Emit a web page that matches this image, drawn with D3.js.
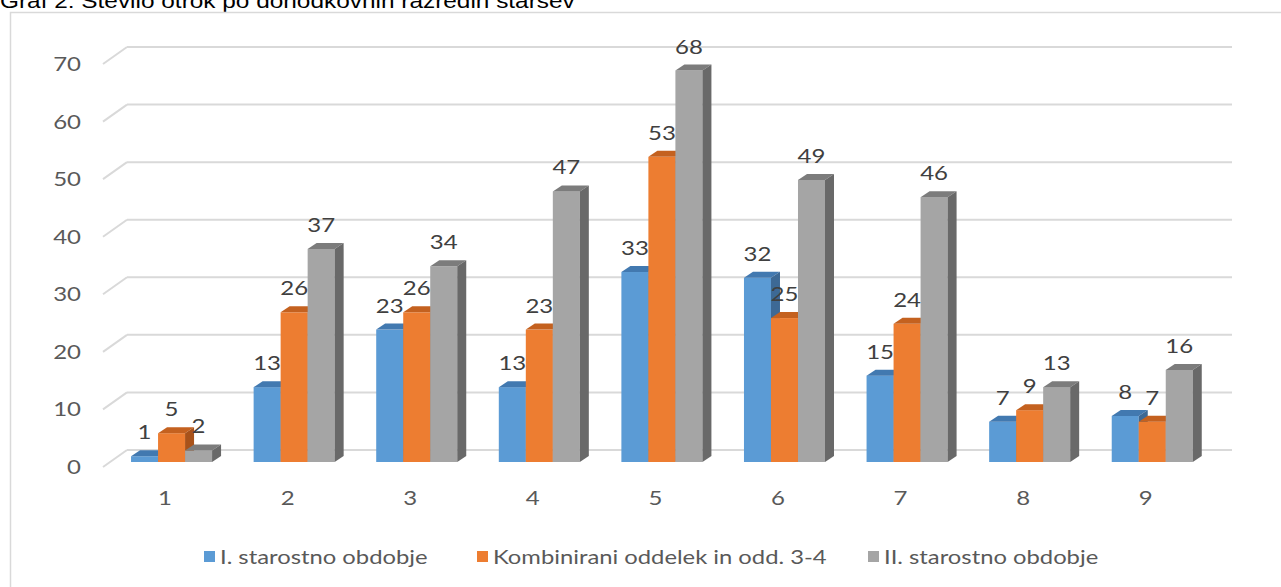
<!DOCTYPE html>
<html>
<head>
<meta charset="utf-8">
<script src="https://cdn.jsdelivr.net/npm/d3@7"></script>
<style>
  body { margin: 0; background: #fff; }
  svg { display: block; }
</style>
</head>
<body>
<div id="chart"></div>
<script>
// values
const categories = ["1", "2", "3", "4", "5", "6", "7", "8", "9"];
const seriesNames = ["I. starostno obdobje", "Kombinirani oddelek in odd. 3-4", "II. starostno obdobje"];
const prvo = [1, 13, 23, 13, 33, 32, 15, 7, 8];
const kombinirani = [5, 26, 26, 23, 53, 25, 24, 9, 7];
const drugo = [2, 37, 34, 47, 68, 49, 46, 13, 16];
const yTicks = [0, 10, 20, 30, 40, 50, 60, 70];

const series = [
  { name: seriesNames[0], values: prvo, front: "#5b9bd5", top: "#4279b0", side: "#3d6995" },
  { name: seriesNames[1], values: kombinirani, front: "#ed7d31", top: "#c4611f", side: "#a8521a" },
  { name: seriesNames[2], values: drugo, front: "#a5a5a5", top: "#7c7c7c", side: "#696969" }
];

const W = 1281, H = 587;
const sx = 1.2;          // text in the picture is a bit wide
const depthX = 9, depthY = 6;   // bar depth
const wallX = 24, wallY = 17;   // side wall of the 3D plot
const barShift = 12;     // bars stand between the front edge and the back wall

const svg = d3.select("#chart").append("svg")
  .attr("width", W)
  .attr("height", H);

// title, cut off at the top
svg.append("text")
  .attr("transform", `translate(0,8) scale(1.22,1)`)
  .attr("font-family", "Liberation Sans, Arial, sans-serif")
  .attr("font-size", 20)
  .attr("fill", "#000")
  .text("Graf 2: Število otrok po dohodkovnih razredih staršev");

// chart area border
svg.append("rect")
  .attr("x", 10.5).attr("y", 12.5)
  .attr("width", W).attr("height", H)
  .attr("fill", "none")
  .attr("stroke", "#d9d9d9")
  .attr("stroke-width", 1.5);

// scales
const y = d3.scaleLinear().domain([0, 70]).range([450, 47]);
const x = d3.scaleBand().domain(categories)
  .range([110.2, 1213.6])
  .paddingInner(0.339)
  .paddingOuter(0.17);
const xs = d3.scaleBand().domain(seriesNames).range([0, x.bandwidth()]);

// back wall gridlines + side wall diagonals
const grid = svg.append("g");
yTicks.forEach(function(t) {
  grid.append("line")
    .attr("x1", 127).attr("x2", 1232)
    .attr("y1", y(t)).attr("y2", y(t))
    .attr("stroke", "#d9d9d9").attr("stroke-width", 2);
  grid.append("line")
    .attr("x1", 127 - wallX).attr("x2", 127)
    .attr("y1", y(t) + wallY).attr("y2", y(t))
    .attr("stroke", "#d9d9d9").attr("stroke-width", 2);
});

// y tick labels
svg.append("g").selectAll("text")
  .data(yTicks)
  .enter().append("text")
  .attr("transform", d => `translate(81,${y(d) + wallY + 7}) scale(${sx},1)`)
  .attr("text-anchor", "end")
  .attr("font-family", "Lato, sans-serif")
  .attr("font-size", 20)
  .attr("fill", "#595959")
  .text(d => d);

// bars
const base = y(0) + barShift;
const groups = svg.append("g").selectAll(".grp")
  .data(categories)
  .enter().append("g")
  .attr("class", "grp")
  .attr("transform", d => `translate(${x(d)},0)`);

series.forEach(function(s) {
  const bw = xs.bandwidth();
  const bx = xs(s.name);
  const b = groups.append("g");
  // front
  b.append("rect")
    .attr("x", bx)
    .attr("y", (d, i) => y(s.values[i]) + barShift)
    .attr("width", bw)
    .attr("height", (d, i) => base - (y(s.values[i]) + barShift))
    .attr("fill", s.front);
  // top
  b.append("path")
    .attr("d", function(d, i) {
      const t = y(s.values[i]) + barShift;
      return `M${bx},${t}L${bx + depthX},${t - depthY}L${bx + bw + depthX},${t - depthY}L${bx + bw},${t}Z`;
    })
    .attr("fill", s.top);
  // side
  b.append("path")
    .attr("d", function(d, i) {
      const t = y(s.values[i]) + barShift;
      return `M${bx + bw},${t}L${bx + bw + depthX},${t - depthY}L${bx + bw + depthX},${base - depthY}L${bx + bw},${base}Z`;
    })
    .attr("fill", s.side);
});

// data labels
series.forEach(function(s) {
  groups.append("text")
    .attr("transform", (d, i) => `translate(${xs(s.name) + xs.bandwidth() / 2},${y(s.values[i]) + barShift - 17}) scale(${sx},1)`)
    .attr("text-anchor", "middle")
    .attr("font-family", "Lato, sans-serif")
    .attr("font-size", 20)
    .attr("fill", "#404040")
    .text((d, i) => s.values[i]);
});

// category labels
svg.append("g").selectAll("text")
  .data(categories)
  .enter().append("text")
  .attr("transform", d => `translate(${x(d) + x.bandwidth() / 2 - 6.5},505) scale(${sx},1)`)
  .attr("text-anchor", "middle")
  .attr("font-family", "Lato, sans-serif")
  .attr("font-size", 20)
  .attr("fill", "#595959")
  .text(d => d);

// legend
const legendX = [204, 477, 868];
const legend = svg.append("g").selectAll("g")
  .data(series)
  .enter().append("g")
  .attr("transform", (d, i) => `translate(${legendX[i]},551)`);
legend.append("rect")
  .attr("x", 0).attr("y", 0)
  .attr("width", 11).attr("height", 11)
  .attr("fill", d => d.front);
legend.append("text")
  .attr("transform", `translate(16,13) scale(1.19,1)`)
  .attr("font-family", "Lato, sans-serif")
  .attr("font-size", 20)
  .attr("fill", "#595959")
  .text(d => d.name);
</script>
</body>
</html>
